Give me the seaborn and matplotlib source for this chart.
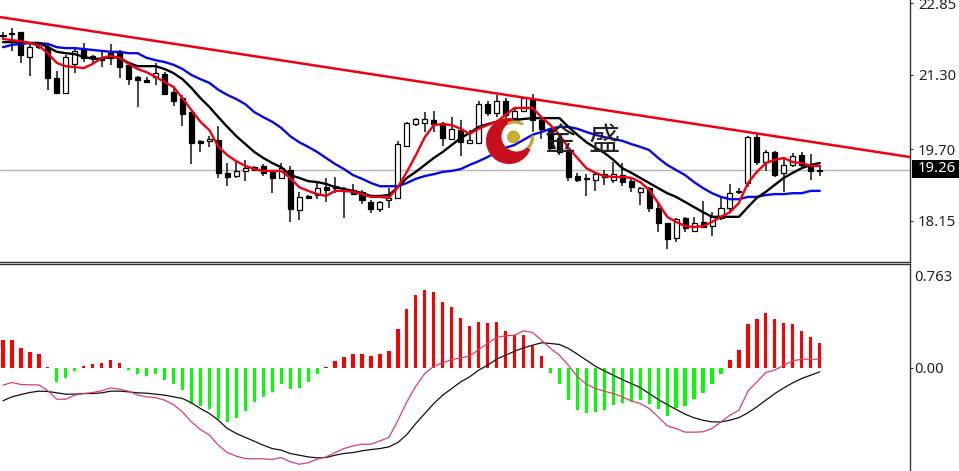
import numpy as np
import pandas as pd
import matplotlib
matplotlib.use('Agg')
import matplotlib.pyplot as plt
from matplotlib.patches import Polygon, Circle, Rectangle
from matplotlib.transforms import Affine2D
import seaborn as sns

# candles (price)
opens = [22.16,22.18,22.23,21.69,21.92,21.90,21.24,20.91,21.54,21.86,21.71,21.67,21.77,21.80,21.52,21.26,21.19,21.26,21.32,20.93,
         20.80,20.50,19.88,19.88,19.90,19.19,19.12,19.23,19.31,19.34,19.21,19.08,19.25,18.39,18.69,18.71,18.88,18.90,18.82,18.82,
         18.78,18.56,18.41,18.60,18.65,19.77,20.24,20.26,20.33,20.26,19.92,20.11,19.83,19.83,20.67,20.48,20.74,20.37,20.52,20.76,
         20.33,20.14,19.94,19.64,19.12,19.08,19.03,19.16,19.03,19.14,19.01,18.78,18.86,18.43,18.11,17.78,18.21,17.93,18.13,18.04,
         18.21,18.43,18.78,18.97,19.96,19.42,19.64,19.19,19.36,19.57,19.34,19.25]
highs = [22.23,22.31,22.23,22.01,21.99,21.95,21.39,21.73,21.88,21.99,21.73,21.84,21.97,21.84,21.56,21.28,21.26,21.56,21.36,21.06,
         20.87,20.50,19.90,19.98,20.20,19.40,19.44,19.47,19.34,19.38,19.25,19.40,19.34,18.78,18.71,18.99,19.08,19.10,18.88,18.95,
         18.82,18.60,18.58,18.86,19.88,20.29,20.37,20.50,20.52,20.29,20.39,20.33,20.11,20.74,20.74,20.87,20.80,20.61,20.83,20.89,
         20.37,20.16,20.00,19.73,19.19,19.16,19.19,19.25,19.42,19.40,19.06,18.88,18.88,18.54,18.11,18.21,18.24,18.24,18.58,18.34,
         18.67,18.95,18.86,19.98,20.05,19.68,19.66,19.51,19.62,19.64,19.60,19.36]
lows = [22.05,21.82,21.56,21.28,21.86,20.98,20.91,20.91,21.34,21.58,21.56,21.47,21.52,21.24,21.08,20.61,21.15,21.08,20.87,20.63,
        20.20,19.38,19.64,19.75,19.08,18.90,19.08,19.01,19.23,19.12,18.75,19.08,18.13,18.17,18.62,18.62,18.56,18.75,18.21,18.71,
        18.52,18.32,18.34,18.43,18.65,19.77,20.20,20.07,20.07,19.77,19.92,19.55,19.81,19.81,20.42,20.39,20.26,20.33,20.50,20.07,
        19.92,19.68,19.57,19.01,18.99,18.69,18.80,18.93,18.97,18.90,18.78,18.49,18.34,17.91,17.55,17.70,17.91,17.93,18.00,17.83,
        18.17,18.34,18.73,18.88,19.36,19.23,19.10,18.78,19.31,19.31,19.03,19.12]
closes = [22.14,22.21,21.73,21.90,21.90,21.24,20.91,21.69,21.82,21.67,21.67,21.62,21.67,21.47,21.21,21.19,21.15,21.34,20.89,20.74,
          20.46,19.83,19.83,19.92,19.19,19.10,19.23,19.29,19.25,19.19,19.08,19.29,18.41,18.67,18.65,18.86,18.82,18.86,18.80,18.73,
          18.60,18.41,18.56,18.65,19.81,20.26,20.35,20.35,20.24,19.94,20.14,19.85,19.90,20.67,20.48,20.74,20.44,20.52,20.80,20.33,
          20.14,19.73,19.64,19.10,19.03,19.06,19.16,19.10,19.16,18.99,18.88,18.86,18.43,18.11,17.76,18.19,18.00,18.11,18.02,18.24,
          18.43,18.75,18.80,19.96,19.42,19.64,19.14,19.36,19.55,19.36,19.23,19.23]

# moving averages
ma_red = [22.08,22.05,22.03,21.99,21.93,21.77,21.56,21.49,21.47,21.45,21.54,21.67,21.71,21.67,21.54,21.43,21.36,21.26,21.15,21.04,
          20.80,20.54,20.29,20.11,19.75,19.57,19.44,19.34,19.27,19.23,19.23,19.23,19.08,18.88,18.80,18.73,18.69,18.80,18.80,18.78,
          18.73,18.67,18.67,18.65,18.88,19.21,19.57,19.96,20.22,20.24,20.22,20.14,20.03,20.14,20.22,20.29,20.44,20.59,20.59,20.59,
          20.39,20.22,20.01,19.73,19.51,19.29,19.19,19.12,19.10,19.10,19.08,18.99,18.82,18.54,18.24,18.13,18.04,18.02,18.04,18.13,
          18.24,18.34,18.54,18.97,19.21,19.40,19.47,19.51,19.42,19.40,19.34,19.34]
ma_black = [22.01,22.01,22.01,21.99,21.99,21.90,21.80,21.77,21.75,21.69,21.65,21.65,21.69,21.67,21.56,21.49,21.49,21.49,21.43,21.34,
            21.21,21.02,20.80,20.61,20.39,20.18,19.98,19.81,19.64,19.51,19.40,19.31,19.14,19.08,19.01,18.99,18.95,18.88,18.84,18.80,
            18.75,18.69,18.69,18.71,18.88,19.08,19.21,19.36,19.51,19.64,19.79,19.94,20.05,20.18,20.24,20.29,20.33,20.33,20.35,20.37,
            20.37,20.37,20.37,20.18,20.01,19.85,19.73,19.62,19.47,19.29,19.19,19.08,18.97,18.86,18.75,18.67,18.56,18.45,18.34,18.24,
            18.24,18.24,18.24,18.45,18.65,18.78,18.93,19.08,19.19,19.29,19.36,19.40]
ma_blue = [21.90,21.95,21.97,21.99,21.99,21.97,21.90,21.88,21.88,21.86,21.84,21.82,21.80,21.80,21.77,21.77,21.67,21.62,21.58,21.52,
           21.43,21.30,21.21,21.13,20.98,20.87,20.78,20.67,20.50,20.39,20.29,20.16,19.98,19.85,19.75,19.64,19.51,19.38,19.27,19.14,
           19.06,18.97,18.90,18.90,18.90,18.97,19.06,19.12,19.16,19.21,19.23,19.27,19.36,19.44,19.53,19.64,19.73,19.79,19.90,20.01,
           20.07,20.14,20.18,20.18,20.14,20.07,20.01,19.96,19.92,19.88,19.81,19.75,19.68,19.51,19.36,19.25,19.14,18.99,18.86,18.75,
           18.67,18.62,18.62,18.67,18.67,18.71,18.73,18.73,18.75,18.75,18.80,18.80]

# trend line through the highs
trend_x = [-0.33, 101.06]
trend_y = [22.55, 19.53]
last_price = 19.26

# macd panel
macd_hist = [0.232,0.232,0.158,0.130,0.111,0.006,-0.119,-0.091,-0.028,0.011,0.028,0.039,0.066,0.039,-0.017,-0.055,-0.072,-0.055,-0.105,-0.138,
             -0.188,-0.299,-0.321,-0.348,-0.423,-0.451,-0.417,-0.359,-0.285,-0.243,-0.207,-0.133,-0.182,-0.166,-0.119,-0.055,0.006,0.055,0.088,0.111,
             0.111,0.094,0.111,0.138,0.323,0.489,0.603,0.641,0.630,0.544,0.503,0.412,0.343,0.379,0.370,0.379,0.304,0.268,0.268,0.177,
             0.094,-0.044,-0.138,-0.271,-0.354,-0.381,-0.368,-0.354,-0.312,-0.293,-0.285,-0.271,-0.299,-0.340,-0.401,-0.334,-0.318,-0.263,-0.210,-0.138,
             -0.055,0.066,0.149,0.359,0.406,0.453,0.398,0.373,0.359,0.304,0.249,0.205]
macd_pink = [-0.146,-0.124,-0.141,-0.144,-0.144,-0.193,-0.263,-0.263,-0.229,-0.216,-0.207,-0.193,-0.169,-0.180,-0.196,-0.229,-0.243,-0.249,-0.271,-0.307,
             -0.368,-0.451,-0.514,-0.561,-0.644,-0.705,-0.735,-0.755,-0.757,-0.757,-0.763,-0.746,-0.782,-0.802,-0.790,-0.760,-0.741,-0.705,-0.672,-0.650,
             -0.636,-0.636,-0.608,-0.580,-0.437,-0.285,-0.155,-0.050,0.011,0.039,0.066,0.080,0.094,0.149,0.199,0.249,0.263,0.268,0.304,0.290,
             0.227,0.158,0.102,0.019,-0.077,-0.138,-0.174,-0.196,-0.216,-0.243,-0.276,-0.299,-0.340,-0.409,-0.484,-0.506,-0.536,-0.536,-0.533,-0.506,
             -0.451,-0.395,-0.354,-0.196,-0.119,-0.041,-0.022,0.019,0.055,0.069,0.069,0.069]
macd_black = [-0.276,-0.243,-0.224,-0.207,-0.196,-0.199,-0.210,-0.221,-0.221,-0.216,-0.216,-0.210,-0.196,-0.196,-0.202,-0.210,-0.213,-0.221,-0.229,-0.243,
              -0.257,-0.293,-0.340,-0.381,-0.437,-0.506,-0.547,-0.580,-0.611,-0.644,-0.672,-0.685,-0.713,-0.727,-0.741,-0.749,-0.746,-0.727,-0.713,-0.705,
              -0.691,-0.680,-0.672,-0.658,-0.622,-0.556,-0.464,-0.381,-0.299,-0.229,-0.174,-0.119,-0.077,-0.022,0.019,0.069,0.102,0.135,0.163,0.185,
              0.205,0.199,0.191,0.158,0.111,0.061,0.011,-0.028,-0.064,-0.100,-0.133,-0.166,-0.216,-0.265,-0.307,-0.348,-0.387,-0.417,-0.437,-0.451,
              -0.451,-0.437,-0.415,-0.376,-0.326,-0.271,-0.216,-0.169,-0.127,-0.091,-0.064,-0.036]

price_ticks = [22.85, 21.30, 19.70, 18.15]
price_labels = ['22.85', '21.30', '19.70', '18.15']
macd_ticks = [0.763, 0.0]
macd_labels = ['0.763', '0.00']

W, H = 959, 471
sns.set_style('white')
plt.rcParams['font.family'] = ['Noto Sans', 'DejaVu Sans']

df = pd.DataFrame({'open': opens, 'high': highs, 'low': lows, 'close': closes})
df['i'] = np.arange(len(df))
up = df[df['close'] >= df['open']]
down = df[df['close'] < df['open']]

fig = plt.figure(figsize=(W / 100, H / 100), dpi=100)
ax1 = fig.add_axes([0, 1 - 261.5 / H, 910 / W, 261.5 / H])
ax2 = fig.add_axes([0, 0, 910 / W, (H - 264) / H])
px = Affine2D().scale(1 / W, -1 / H).translate(0, 1) + fig.transFigure

# price panel
ax1.axhline(last_price, color='#b4b4b4', lw=1, zorder=0.5)
ax1.vlines(df['i'], df['low'], df['high'], color='#111111', lw=1.1, zorder=1)
ax1.bar(up['i'], up['close'] - up['open'], bottom=up['open'], width=0.56,
        facecolor='white', edgecolor='black', lw=0.9, zorder=2)
ax1.bar(down['i'], down['close'] - down['open'], bottom=down['open'], width=0.56,
        facecolor='black', edgecolor='black', lw=0.9, zorder=2)
for vals, col in [(ma_blue, '#0808e8'), (ma_black, 'black'), (ma_red, '#f00010')]:
    sns.lineplot(x=df['i'], y=vals, color=col, lw=1.7, ax=ax1, estimator=None, legend=False, zorder=3)
sns.lineplot(x=trend_x, y=trend_y, color='#f00010', lw=1.8, ax=ax1, estimator=None, legend=False, zorder=4)

ax1.set_xlim(-0.334, 101.06)
ax1.set_ylim(17.276, 22.918)

# macd panel
hist_sign = np.where(np.array(macd_hist) >= 0, 'up', 'down')
sns.barplot(x=df['i'], y=macd_hist, hue=hist_sign, palette={'up': '#ff0000', 'down': '#00ff00'},
            native_scale=True, width=0.36, dodge=False, saturation=1, legend=False, lw=0, ax=ax2, zorder=1)
sns.lineplot(x=df['i'], y=macd_black, color='#101010', lw=0.9, ax=ax2, estimator=None, legend=False, zorder=2)
sns.lineplot(x=df['i'], y=macd_pink, color='#d8406c', lw=0.9, ax=ax2, estimator=None, legend=False, zorder=3)
ax2.set_xlim(-0.334, 101.06)
ax2.set_ylim(-0.858, 0.858)

for ax, ticks, labels, pad in [(ax1, price_ticks, price_labels, 3.6), (ax2, macd_ticks, macd_labels, 0.8)]:
    ax.set_xlabel('')
    ax.set_ylabel('')
    ax.set_xticks([])
    ax.yaxis.tick_right()
    ax.set_yticks(ticks)
    ax.set_yticklabels(labels)
    ax.tick_params(axis='y', length=2.2, width=0.8, color='#333333', pad=pad,
                   labelsize=10.7, labelcolor='#222222')
    ax.patch.set_alpha(0)
    for name, spine in ax.spines.items():
        spine.set_color('#333333')
        spine.set_linewidth(1)
    ax.spines['left'].set_visible(False)
ax1.spines['top'].set_visible(False)
ax2.spines['bottom'].set_visible(False)
# the top label of the macd scale has no tick mark next to it
ax2.yaxis.get_major_ticks()[0].tick2line.set_visible(False)

# last price tag
fig.add_artist(Rectangle((912, 160), 47, 18, transform=px, facecolor='black', edgecolor='none', zorder=6))
fig.text(918 / W, 1 - 169 / H, '19.26', color='white', fontsize=10.7, va='center', ha='left', zorder=7)

# watermark
t = np.radians(np.linspace(77, 338, 60))
t2 = np.radians(np.linspace(318, 102, 60))
outer = np.c_[509 + 23 * np.cos(t), 141 - 23 * np.sin(t)]
inner = np.c_[516.5 + 15 * np.cos(t2), 136.5 - 15 * np.sin(t2)]
fig.add_artist(Polygon(np.r_[outer, inner], closed=True, transform=px, facecolor='#c80f1c', edgecolor='none', zorder=5))
fig.add_artist(Circle((513.5, 137), 6, transform=px, facecolor='#c9b02a', edgecolor='#b09a20', lw=0.5, zorder=5))
for a0, a1, r, cx, cy, lw in [(-40, 0, 15.5, 517, 137, 2.4), (60, 115, 14, 515, 136, 2.2)]:
    ta = np.radians(np.linspace(a0, a1, 30))
    fig.add_artist(plt.Line2D(cx + r * np.cos(ta), cy - r * np.sin(ta), transform=px, color='#c2a83a', lw=lw, zorder=5))
for x_txt, ch in [(560, '金'), (604, '盛')]:
    fig.text(x_txt / W, 1 - 141 / H, ch, fontsize=22.5, color='#242424', ha='center', va='center',
             family=['Noto Sans CJK SC', 'DejaVu Sans'], zorder=6)

fig.savefig('out.png', dpi=100)
